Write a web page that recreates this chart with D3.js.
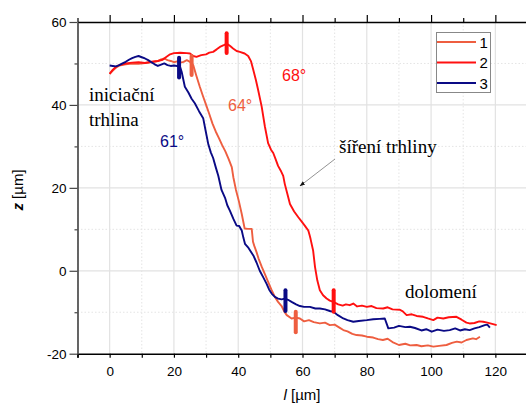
<!DOCTYPE html>
<html>
<head>
<meta charset="utf-8">
<script src="https://cdn.jsdelivr.net/npm/d3@7.9.0/dist/d3.min.js"></script>
<style>
  body { margin: 0; background: #fff; }
  svg { display: block; overflow: hidden; }
</style>
</head>
<body>
<svg id="chart" width="526" height="408" font-family="'Liberation Sans', Arial, sans-serif"></svg>
<script>
// profile 1 (l, z)
const prof1 = [[0,47.5],[1,48.3],[2,49],[3,49.5],[5,49.8],[7,50],[9,49.9],[11,50.1],[13,50.3],[15,50.6],[16,51],[17,51.2],[18,50.8],[19,50.6],[20,50.3],[21,50.5],[22,50.2],[23,50.4],[24,50.8],[25,50.4],[26,49.6],[27,47],[28,44.5],[29,42.2],[30,40],[31,37.8],[32,35.5],[33,33.6],[34,32],[35,30.3],[36,28.8],[37,27],[38,25],[38.5,22.5],[39.3,19.5],[40.2,16.8],[41.1,13.7],[42,10.2],[43,10.1],[44.2,10.1],[44.6,7],[45,6],[45.7,4.5],[46.3,3],[47.3,1],[48.3,-0.8],[49.3,-2.7],[50.3,-4.5],[51.4,-6.3],[52.4,-7.5],[53.5,-8.5],[54.3,-9.8],[55.1,-10.7],[56.6,-11.5],[58,-11.3],[59.2,-11.5],[60.5,-12.2],[62,-11.9],[63.5,-12.4],[65.4,-12.7],[67,-12.5],[68.5,-13.1],[70,-13],[71.5,-13.7],[72.7,-14.3],[74,-14.6],[75.5,-15.2],[76.8,-15.5],[78.5,-15.6],[80,-15.9],[82,-16.1],[83.5,-16.5],[85,-16.7],[86.5,-16.4],[88,-17.2],[90,-17.9],[92,-17.6],[93.5,-18],[95.5,-17.9],[97,-18.2],[99,-18],[100.7,-18.3],[102.5,-18.1],[104.8,-17.9],[106.5,-17.4],[108,-17.1],[109.5,-17.3],[111,-16.7],[113,-16.3],[114,-16.5],[115.2,-15.9]];

// profile 2
const prof2 = [[0,47.5],[1,48.5],[2,49.2],[3,49.6],[5,50],[7,50.2],[9,50.3],[11,50.1],[13,50.4],[15,50.6],[16.5,50.9],[17.5,51.5],[18.8,52.2],[20,52.5],[22,52.6],[24,52.5],[25,52.4],[26,51.8],[27,51.6],[28.5,52],[30,52.2],[31,52.6],[32.2,52.8],[33.3,53.4],[34.3,54],[35.5,54.4],[36.4,54.8],[37.5,54.2],[38.4,53.6],[39.5,53],[40.5,52.8],[42,52.4],[43.1,51.8],[44,50.5],[44.7,48.4],[45.5,46],[46.2,43.6],[47.3,39.6],[48.3,34.8],[49.3,30.8],[50.2,29.2],[50.9,28.4],[51.6,27],[52.4,25.3],[53.2,24.2],[54,22.9],[54.5,20.9],[55.3,18.5],[56.1,16.1],[57.4,14.3],[58.7,12.9],[59.7,11.9],[60.7,10.9],[61.8,9.7],[62.2,8.6],[62.5,7.7],[63.3,4.9],[63.9,0.9],[64.6,-2.3],[65.4,-4.7],[66.4,-5.9],[67.5,-6.7],[68.5,-7.2],[69.6,-7.5],[71.1,-8.1],[72.5,-8.4],[73.5,-8.1],[74.7,-8.3],[75.8,-7.9],[77,-8.6],[78.5,-8.4],[80,-8.7],[81.5,-8.5],[83,-9],[85.1,-9.1],[86.5,-8.8],[88,-9.3],[90.3,-9.4],[91.2,-9.8],[92.4,-10.7],[94,-10.5],[95.5,-10.9],[97.5,-11.1],[99,-11.5],[100.7,-11.9],[102,-11.3],[103.8,-11.5],[105.5,-11.2],[107.9,-11.1],[109.5,-11.8],[111,-12.5],[112,-12.7],[113.5,-12.6],[115,-12.2],[116.2,-12.3],[117.5,-12.5],[119,-12.8],[120.4,-13.1]];

// profile 3
const prof3 = [[0,49.5],[1,49.4],[2,49.3],[3,49.6],[4,50],[5,50.4],[6,50.9],[7,51.3],[8,51.6],[9,51.8],[10,51.5],[11,51.2],[12,50.8],[13,50.3],[14,49.8],[15,49.4],[16,49.7],[17,50],[18,49.6],[19,49.4],[20,49.5],[21,49.4],[21.9,49.2],[22.4,48],[23.4,44.4],[24.5,43],[25.5,41.5],[26.5,40.4],[27.8,38.5],[29.1,36.8],[29.8,34],[30.7,30.5],[31.5,28.5],[32.2,27.2],[33,25],[33.8,22.9],[34.8,19.5],[35.9,17.6],[36.6,15.8],[37.4,14.5],[38.5,12.5],[39.5,10.9],[40.3,10.8],[41.1,9.7],[41.6,8],[42.1,6.5],[43.2,5.5],[44.7,3.7],[45.7,2],[46.7,0],[47.8,-1.6],[48.8,-3.1],[49.6,-4.5],[50.4,-5.5],[51.4,-6.3],[52.4,-6.7],[53.5,-6.9],[54.5,-6.7],[55.5,-7],[56.6,-7.5],[58,-8.1],[59.2,-8.5],[60.5,-8.7],[62.3,-8.7],[64,-9.1],[65.4,-9.1],[67,-9.3],[68.5,-9.7],[69.6,-9.9],[71,-10.7],[72.7,-11.5],[74,-11.9],[75.8,-12.3],[77.5,-12.1],[80,-11.9],[82,-11.7],[84,-11.6],[85.6,-11.5],[86.2,-12.8],[86.7,-13.9],[88.5,-13.7],[90,-13.3],[92,-13.6],[93.4,-13.5],[95,-13.8],[97,-14.4],[98.5,-14.1],[100.2,-14.7],[102,-14.2],[104,-14.5],[105.8,-14.3],[107.5,-13.9],[109,-14.4],[110.5,-14.1],[112,-14.3],[113.5,-13.9],[115,-13.6],[116.7,-13.1],[117.5,-13],[118.3,-13.7]];

const seriesNames = ['1', '2', '3'];
const seriesColors = ['#ee5e40', '#ff1010', '#0a0a85'];

// crack start/end marks: series index, l, z from, z to
const marks = [[2,21.6,46.6,51.4],[0,25.5,47.2,51.8],[1,36.4,52.5,57.3],[2,54.7,-9.7,-4.7],[0,57.9,-14.8,-9.9],[1,69.7,-9.9,-4.7]];

const xTicks = [0, 20, 40, 60, 80, 100, 120];
const yTicks = [-20, 0, 20, 40, 60];

const SERIF = "'Liberation Serif', 'Times New Roman', Times, serif";

const svg = d3.select('#chart');
const margin = { left: 77.5, top: 22 };
const width = 450, height = 331.7;

const x = d3.scaleLinear().domain([-10, 130]).range([margin.left, margin.left + width]);
const y = d3.scaleLinear().domain([-20, 60]).range([margin.top + height, margin.top]);

// grid
const minorX = d3.range(-10, 131, 10).filter(d => d % 20 !== 0);
const minorY = d3.range(-10, 60, 20);
svg.append('g').selectAll('line').data(minorX).join('line')
  .attr('x1', d => x(d)).attr('x2', d => x(d))
  .attr('y1', y(60)).attr('y2', y(-20))
  .attr('stroke', '#e4e4e4').attr('stroke-dasharray', '1.5,2');
svg.append('g').selectAll('line').data(minorY).join('line')
  .attr('y1', d => y(d)).attr('y2', d => y(d))
  .attr('x1', x(-10)).attr('x2', x(130))
  .attr('stroke', '#e4e4e4').attr('stroke-dasharray', '1.5,2');
svg.append('g').selectAll('line').data(xTicks).join('line')
  .attr('x1', d => x(d)).attr('x2', d => x(d))
  .attr('y1', y(60)).attr('y2', y(-20))
  .attr('stroke', '#e2e2e2').attr('stroke-width', 1.2);
svg.append('g').selectAll('line').data([0, 20, 40]).join('line')
  .attr('y1', d => y(d)).attr('y2', d => y(d))
  .attr('x1', x(-10)).attr('x2', x(130))
  .attr('stroke', '#e2e2e2').attr('stroke-width', 1.2);

// axes
const bottomAxis = svg.append('g').attr('transform', `translate(0,${y(-20)})`)
  .call(d3.axisBottom(x).tickValues(d3.range(-10, 131, 10)).tickSize(4).tickFormat(d => xTicks.includes(d) ? d : ''));
bottomAxis.attr('font-family', null);
bottomAxis.select('.domain').attr('stroke', '#000').attr('stroke-width', 1.6);
bottomAxis.selectAll('.tick line').attr('stroke', '#000').attr('stroke-width', 1.2);
bottomAxis.selectAll('text').attr('font-size', 13.5).attr('dy', '1.15em').attr('fill', '#000');

const topAxis = svg.append('g').attr('transform', `translate(0,${y(60)})`)
  .call(d3.axisTop(x).tickValues(d3.range(-10, 131, 10)).tickSize(0).tickFormat(''));
topAxis.select('.domain').attr('stroke', '#000').attr('stroke-width', 1.6);
topAxis.selectAll('.tick line').attr('stroke', '#000').attr('stroke-width', 1.2)
  .attr('y2', d => d % 20 === 0 ? -7 : -4);

const leftAxis = svg.append('g').attr('transform', `translate(${x(-10)},0)`)
  .call(d3.axisLeft(y).tickValues(d3.range(-20, 61, 10)).tickSize(0).tickPadding(11).tickFormat(d => yTicks.includes(d) ? d : ''));
leftAxis.attr('font-family', null);
leftAxis.select('.domain').attr('stroke', '#555').attr('stroke-width', 1.8);
leftAxis.selectAll('.tick line').attr('stroke', '#444').attr('stroke-width', 1.2)
  .attr('x2', d => d % 20 === 0 ? -8 : -3);
leftAxis.selectAll('text').attr('font-size', 13.5).attr('fill', '#000');

// curves
const line = d3.line().x(d => x(d[0])).y(d => y(d[1]));
[prof1, prof2, prof3].forEach((p, i) => {
  svg.append('path').datum(p)
    .attr('d', line)
    .attr('fill', 'none')
    .attr('stroke', seriesColors[i])
    .attr('stroke-width', 1.9)
    .attr('stroke-linejoin', 'round');
});

// marks
svg.append('g').selectAll('line').data(marks).join('line')
  .attr('x1', d => x(d[1])).attr('x2', d => x(d[1]))
  .attr('y1', d => y(d[2])).attr('y2', d => y(d[3]))
  .attr('stroke', d => seriesColors[d[0]])
  .attr('stroke-width', 4)
  .attr('stroke-linecap', 'round');

// legend
const lg = svg.append('g');
lg.append('rect').attr('x', 436.5).attr('y', 32.5).attr('width', 54).attr('height', 60)
  .attr('fill', '#fff').attr('stroke', '#888').attr('stroke-width', 1);
seriesNames.forEach((n, i) => {
  const yy = 42 + i * 20.5;
  lg.append('line').attr('x1', 437).attr('x2', 476).attr('y1', yy).attr('y2', yy)
    .attr('stroke', seriesColors[i]).attr('stroke-width', 2);
  lg.append('text').attr('x', 479.5).attr('y', yy + 5.5).attr('font-size', 15).text(n);
});

// angle labels
const angles = [[0, '64°', 228, 111], [1, '68°', 282, 81], [2, '61°', 160, 147]];
angles.forEach(a => {
  svg.append('text').attr('x', a[2]).attr('y', a[3]).attr('font-size', 16)
    .attr('fill', seriesColors[a[0]]).text(a[1]);
});

// annotations
const notes = [['iniciační', 89, 101], ['trhlina', 89, 126], ['šíření trhliny', 339, 153], ['dolomení', 405, 298]];
notes.forEach(n => {
  svg.append('text').attr('x', n[1]).attr('y', n[2])
    .attr('font-size', 19).style('font-family', SERIF).text(n[0]);
});

svg.append('defs').append('marker').attr('id', 'arr')
  .attr('viewBox', '0 0 10 10').attr('refX', 9).attr('refY', 5)
  .attr('markerWidth', 7).attr('markerHeight', 7).attr('orient', 'auto')
  .append('path').attr('d', 'M0,1.5L10,5L0,8.5Z').attr('fill', '#111');
svg.append('line').attr('x1', 335).attr('y1', 159).attr('x2', 300).attr('y2', 186)
  .attr('stroke', '#777').attr('stroke-width', 0.8).attr('marker-end', 'url(#arr)');

// axis titles
const zt = svg.append('text').attr('transform', 'translate(23,190) rotate(-90)')
  .attr('text-anchor', 'middle').attr('font-size', 15);
zt.append('tspan').attr('font-style', 'italic').attr('font-weight', 'bold').text('z');
zt.append('tspan').text(' [µm]');
const lt = svg.append('text').attr('x', 302).attr('y', 400)
  .attr('text-anchor', 'middle').attr('font-size', 15);
lt.append('tspan').attr('font-style', 'italic').text('l');
lt.append('tspan').text(' [µm]');
</script>
</body>
</html>
